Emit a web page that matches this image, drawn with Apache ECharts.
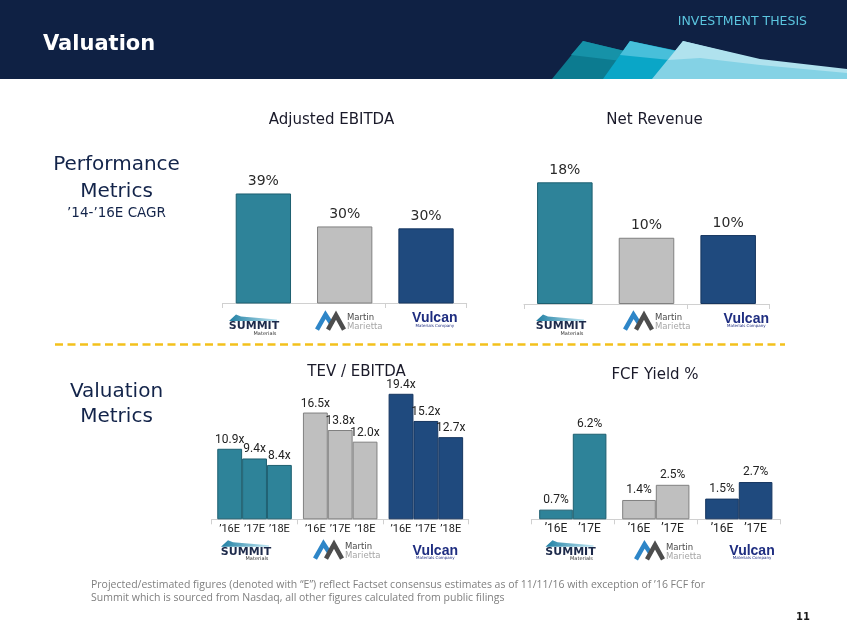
<!DOCTYPE html>
<html><head><meta charset="utf-8">
<script src="https://cdn.jsdelivr.net/npm/echarts@6/dist/echarts.min.js"></script>
<style>html,body{margin:0;padding:0;background:#fff}#c{width:847px;height:635px}</style>
</head><body><div id="c"></div><script>
// ---- data ----
const companies = ['Summit Materials', 'Martin Marietta', 'Vulcan Materials'];
const ebitdaCagr = [38.9, 30.2, 29.7];
const revenueCagr = [18.0, 9.8, 10.2];
const tevYears = ['\u201916E', '\u201917E', '\u201918E'];
const tevSummit = [10.9, 9.4, 8.4];
const tevMartin = [16.5, 13.8, 12.0];
const tevVulcan = [19.4, 15.2, 12.7];
const fcfYears = ['\u201916E', '\u201917E'];
const fcfSummit = [0.7, 6.2];
const fcfMartin = [1.4, 2.5];
const fcfVulcan = [1.5, 2.7];

// ---- styles ----
const COL = ['#2e8399', '#bfbfbf', '#1f4a7e'];
const BORDER = ['#1d5f70', '#808080', '#163660'];
const F_HEAD = '"DejaVu Sans", sans-serif';
const F_NUM = 'Roboto, sans-serif';
const NAVY = '#13244a';

function itemData(vals) {
  return vals.map((v, i) => ({ value: v, itemStyle: { color: COL[i], borderColor: BORDER[i], borderWidth: 1 } }));
}
function txt(x, y, text, s) {
  const st = Object.assign({ text: text, fill: '#222', fontSize: 12, fontFamily: F_HEAD, textAlign: 'center', textVerticalAlign: 'middle', align: 'center', verticalAlign: 'middle' }, s || {});
  if (st.textAlign) st.align = st.textAlign;
  return { type: 'text', x: x, y: y, style: st, silent: true };
}
function summitLogo(cx, cy) {
  return [
    { type: 'polygon', silent: true, shape: { points: [[cx - 25, cy - 5], [cx - 18, cy - 11.5], [cx - 13, cy - 9.5], [cx + 23, cy - 6.5], [cx + 23, cy - 5]] },
      style: { fill: { type: 'linear', x: 0, y: 0, x2: 1, y2: 0, colorStops: [{ offset: 0, color: '#1f7fa3' }, { offset: 1, color: '#c0e6f2' }] } } },
    txt(cx, cy, 'SUMMIT', { fontSize: 11, fontWeight: 'bold', fill: '#1d2a4b' }),
    txt(cx + 11, cy + 7.5, 'Materials', { fontSize: 5, fill: '#333' })
  ];
}
function mmLogo(x0, y0) {
  return [
    { type: 'polyline', silent: true, shape: { points: [[x0 + 1, y0 + 17], [x0 + 9.5, y0 + 2], [x0 + 16, y0 + 12]] }, style: { stroke: '#2e86c8', lineWidth: 4.5, fill: null } },
    { type: 'polyline', silent: true, shape: { points: [[x0 + 12, y0 + 17], [x0 + 20, y0 + 2.5], [x0 + 28, y0 + 17]] }, style: { stroke: '#4d4d4d', lineWidth: 4.5, fill: null } },
    txt(x0 + 31, y0 + 5.5, 'Martin', { fontSize: 8.5, fill: '#4a4a4a', textAlign: 'left' }),
    txt(x0 + 31, y0 + 14, 'Marietta', { fontSize: 8.5, fill: '#a6a6a6', textAlign: 'left' })
  ];
}
function vulcanLogo(cx, cy) {
  return [
    txt(cx, cy, 'Vulcan', { fontSize: 14, fontWeight: 'bold', fontFamily: '"Liberation Sans Narrow", "Arial Narrow", sans-serif', fill: '#1e2d80' }),
    txt(cx, cy + 7, 'Materials Company', { fontSize: 4, fill: '#1e2d80' })
  ];
}

const grids = [
  { left: 222.7, top: 159, width: 244, height: 144 },
  { left: 524, top: 168.8, width: 245, height: 135.2 },
  { left: 211.7, top: 389.9, width: 257, height: 129.4 },
  { left: 531.3, top: 422.7, width: 249, height: 96.6 }
];
const axisLineStyle = { lineStyle: { color: '#d0d0d0', width: 1 } };
function xAx(gi, labelCfg) {
  return {
    type: 'category', gridIndex: gi, data: companies, boundaryGap: true,
    axisLine: axisLineStyle, axisTick: { show: true, length: 5, lineStyle: { color: '#d0d0d0' } },
    axisLabel: labelCfg || { show: false }, splitLine: { show: false }
  };
}
function yAx(gi, min, max) {
  return { type: 'value', gridIndex: gi, min: min, max: max, show: false, splitLine: { show: false } };
}
const yearRich = (w, fs) => ({ y: { width: w, align: 'center', fontSize: fs, fontFamily: F_NUM, color: '#222' } });

const series = [];
const topLabel = { show: true, position: 'top', distance: 5, formatter: p => Math.round(p.value) + '%', fontSize: 14, fontFamily: F_HEAD, fontWeight: 'normal', color: '#2a2a2a' };
series.push({ type: 'bar', xAxisIndex: 0, yAxisIndex: 0, data: itemData(ebitdaCagr), barCategoryGap: '32%', label: topLabel });
series.push({ type: 'bar', xAxisIndex: 1, yAxisIndex: 1, data: itemData(revenueCagr), barCategoryGap: '32%', label: topLabel });
tevYears.forEach((yr, j) => {
  series.push({
    type: 'bar', name: yr, xAxisIndex: 2, yAxisIndex: 2, barGap: '0%', barCategoryGap: '13%',
    data: itemData([tevSummit[j], tevMartin[j], tevVulcan[j]]),
    label: { show: true, position: 'top', distance: 3, formatter: p => p.value.toFixed(1) + 'x', fontSize: 12, fontFamily: F_NUM, color: '#222' }
  });
});
fcfYears.forEach((yr, j) => {
  series.push({
    type: 'bar', name: yr, xAxisIndex: 3, yAxisIndex: 3, barGap: '0%', barCategoryGap: '19%',
    data: itemData([fcfSummit[j], fcfMartin[j], fcfVulcan[j]]),
    label: { show: true, position: 'top', distance: 4, formatter: p => p.value.toFixed(1) + '%', fontSize: 12, fontFamily: F_NUM, color: '#222' }
  });
});

const graphic = [
  { type: 'rect', silent: true, shape: { x: 0, y: 0, width: 847, height: 79 }, style: { fill: '#0f2144' } },
  { type: 'polygon', silent: true, shape: { points: [[552, 79], [583, 41], [740, 79]] }, style: { fill: '#0c7b90' } },
  { type: 'polygon', silent: true, shape: { points: [[571, 55], [583, 41], [650, 57], [630, 62]] }, style: { fill: '#1692a8' } },
  { type: 'polygon', silent: true, shape: { points: [[603, 79], [630, 41], [815, 79]] }, style: { fill: '#0aa6c7' } },
  { type: 'polygon', silent: true, shape: { points: [[620, 55], [630, 41], [690, 54], [670, 60]] }, style: { fill: '#48bfda' } },
  { type: 'polygon', silent: true, shape: { points: [[652, 79], [683, 41], [760, 60], [847, 70], [847, 79]] }, style: { fill: '#84d2e5' } },
  { type: 'polygon', silent: true, shape: { points: [[668, 60], [683, 41], [760, 59], [847, 69], [847, 73], [760, 65], [700, 58]] }, style: { fill: '#b0e2ee' } },
  txt(43, 45, 'Valuation', { fontSize: 21, fontWeight: 'bold', fill: '#ffffff', textAlign: 'left' }),
  txt(807, 22, 'INVESTMENT THESIS', { fontSize: 12.5, fill: '#5bc5df', textAlign: 'right' }),

  txt(116.5, 165, 'Performance', { fontSize: 20, fill: NAVY }),
  txt(116.5, 191.5, 'Metrics', { fontSize: 20, fill: NAVY }),
  txt(116.5, 213, '\u201914-\u201916E CAGR', { fontSize: 13.5, fill: NAVY }),
  txt(116.5, 391.5, 'Valuation', { fontSize: 20, fill: NAVY }),
  txt(116.5, 416.5, 'Metrics', { fontSize: 20, fill: NAVY }),

  txt(331.5, 120, 'Adjusted EBITDA', { fontSize: 15, fill: '#1a1a2a' }),
  txt(654.5, 120, 'Net Revenue', { fontSize: 15, fill: '#1a1a2a' }),
  txt(356.5, 372, 'TEV / EBITDA', { fontSize: 15, fill: '#1a1a2a' }),
  txt(655, 375, 'FCF Yield %', { fontSize: 15, fill: '#1a1a2a' }),

  { type: 'line', silent: true, shape: { x1: 55, y1: 344.5, x2: 785, y2: 344.5 }, style: { stroke: '#f3c11c', lineWidth: 2.5, lineDash: [8, 4.5] } },

  txt(91, 585, 'Projected/estimated figures (denoted with \u201cE\u201d) reflect Factset consensus estimates as of 11/11/16 with exception of \u201916 FCF for', { fontSize: 10.5, fontFamily: '"Open Sans", sans-serif', fill: '#7f7f7f', textAlign: 'left' }),
  txt(91, 598.5, 'Summit which is sourced from Nasdaq, all other figures calculated from public filings', { fontSize: 10.5, fontFamily: '"Open Sans", sans-serif', fill: '#7f7f7f', textAlign: 'left' }),
  txt(803, 617, '11', { fontSize: 10, fontWeight: 'bold', fill: '#1a1a1a' })
];
[].concat(
  summitLogo(254, 326), mmLogo(316, 312.7), vulcanLogo(434.8, 318.5),
  summitLogo(561, 326), mmLogo(624, 312.7), vulcanLogo(746.3, 319),
  summitLogo(246, 551.7), mmLogo(314, 541.7), vulcanLogo(435.3, 550.7),
  summitLogo(570.5, 551.7), mmLogo(635, 542.3), vulcanLogo(752, 550.7)
).forEach(g => graphic.push(g));

const chart = echarts.init(document.getElementById('c'), null, { renderer: 'canvas' });
chart.setOption({
  animation: false,
  backgroundColor: '#ffffff',
  grid: grids,
  xAxis: [
    xAx(0), xAx(1),
    xAx(2, { show: true, interval: 0, margin: 4, formatter: () => tevYears.map(y => '{y|' + y + '}').join(''), rich: yearRich(24.9, 11) }),
    xAx(3, { show: true, interval: 0, margin: 4, formatter: () => fcfYears.map(y => '{y|' + y + '}').join(''), rich: yearRich(33.5, 12) })
  ],
  yAxis: [yAx(0, 10, 48), yAx(1, 0, 20), yAx(2, 0, 20), yAx(3, 0, 7)],
  series: series,
  graphic: graphic
});
</script></body></html>
